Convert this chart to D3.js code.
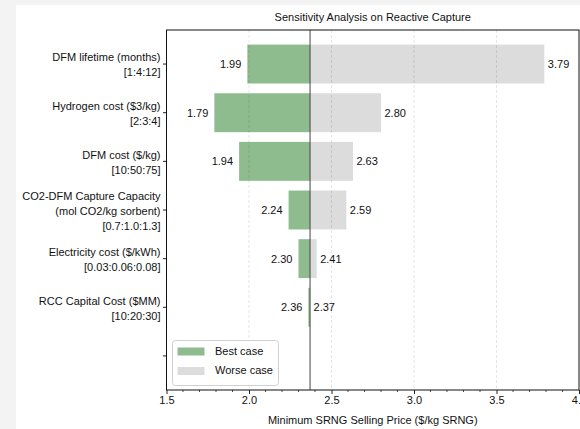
<!DOCTYPE html>
<html>
<head>
<meta charset="utf-8">
<script src="https://cdn.jsdelivr.net/npm/d3@7"></script>
<style>
  html, body { margin: 0; padding: 0; background: #f3f3f3; }
  svg { display: block; font-family: "Liberation Sans", Arial, sans-serif; }
</style>
</head>
<body>
<svg id="chart" width="580" height="429"></svg>
<script>
// ---- data ----
const categoryLabels = [
  ["DFM lifetime (months)", "[1:4:12]"],
  ["Hydrogen cost ($3/kg)", "[2:3:4]"],
  ["DFM cost ($/kg)", "[10:50:75]"],
  ["CO2-DFM Capture Capacity", "(mol CO2/kg sorbent)", "[0.7:1.0:1.3]"],
  ["Electricity cost ($/kWh)", "[0.03:0.06:0.08]"],
  ["RCC Capital Cost ($MM)", "[10:20:30]"],
  [""]
];
const baseValue = 2.37;
const bestCase = [1.99, 1.79, 1.94, 2.24, 2.30, 2.36];
const worseCase = [3.79, 2.80, 2.63, 2.59, 2.41, 2.37];
const bestLabels = ["1.99", "1.79", "1.94", "2.24", "2.30", "2.36"];
const worseLabels = ["3.79", "2.80", "2.63", "2.59", "2.41", "2.37"];
const xTicks = [1.5, 2.0, 2.5, 3.0, 3.5, 4.0];
const xTickLabels = ["1.5", "2.0", "2.5", "3.0", "3.5", "4.0"];
const legendLabels = ["Best case", "Worse case"];
const titleText = "Sensitivity Analysis on Reactive Capture";
const xTitle = "Minimum SRNG Selling Price ($/kg SRNG)";

// ---- layout ----
const W = 580, H = 429;
const plot = { left: 166.5, right: 579, top: 30, bottom: 390 };
const green = "#8fbc8f", grey = "#dcdcdc";

const svg = d3.select("#chart");
svg.append("rect").attr("x", 0).attr("y", 0).attr("width", W).attr("height", H).attr("fill", "#f3f3f3");
svg.append("rect").attr("x", 16).attr("y", 5).attr("width", W - 16).attr("height", H - 5).attr("fill", "#ffffff");

const x = d3.scaleLinear().domain([1.5, 4.0]).range([plot.left, plot.right]);
const y = d3.scaleLinear().domain([-0.7, 6.7]).range([plot.top, plot.bottom]);
const barH = (y(1) - y(0)) * 0.8;

const idx = d3.range(bestCase.length);

// bars
const g = svg.append("g");
g.selectAll("rect.best").data(idx).join("rect")
  .attr("class", "best")
  .attr("x", i => x(bestCase[i]))
  .attr("width", i => x(baseValue) - x(bestCase[i]))
  .attr("y", i => y(i) - barH / 2)
  .attr("height", barH)
  .attr("fill", green);
g.selectAll("rect.worse").data(idx).join("rect")
  .attr("class", "worse")
  .attr("x", x(baseValue))
  .attr("width", i => Math.max(0, x(worseCase[i]) - x(baseValue)))
  .attr("y", i => y(i) - barH / 2)
  .attr("height", barH)
  .attr("fill", grey);

// grid (dashed) over bars
svg.append("g").selectAll("line").data(xTicks.slice(1, -1)).join("line")
  .attr("x1", d => x(d)).attr("x2", d => x(d))
  .attr("y1", plot.top).attr("y2", plot.bottom)
  .attr("stroke", "#000").attr("stroke-opacity", 0.13)
  .attr("stroke-width", 0.8).attr("stroke-dasharray", "3,2");

// baseline
svg.append("line")
  .attr("x1", x(baseValue)).attr("x2", x(baseValue))
  .attr("y1", plot.top).attr("y2", plot.bottom)
  .attr("stroke", "#444").attr("stroke-width", 1);

// value labels
const fs = 11;
g.selectAll("text.bl").data(idx).join("text")
  .attr("x", i => x(bestCase[i]) - 6)
  .attr("y", i => y(i) + 1)
  .attr("text-anchor", "end").attr("dominant-baseline", "middle")
  .attr("font-size", fs).attr("fill", "#111")
  .text(i => bestLabels[i]);
g.selectAll("text.wl").data(idx).join("text")
  .attr("x", i => x(worseCase[i]) + 3.5)
  .attr("y", i => y(i) + 1)
  .attr("text-anchor", "start").attr("dominant-baseline", "middle")
  .attr("font-size", fs).attr("fill", "#111")
  .text(i => worseLabels[i]);

// x axis
const xAxis = d3.axisBottom(x).tickValues(xTicks).tickFormat((d, i) => xTickLabels[i]).tickSize(4).tickPadding(2);
const xa = svg.append("g").attr("transform", `translate(0,${plot.bottom})`).call(xAxis);
xa.select(".domain").remove();
xa.selectAll("text").attr("font-size", 11).attr("fill", "#111").attr("font-family", "Liberation Sans, Arial, sans-serif");
xa.selectAll("line").attr("stroke", "#222");
// minor ticks
const minor = d3.range(16, 40).map(v => v / 10).filter(v => Math.abs(v * 2 - Math.round(v * 2)) > 1e-6);
svg.append("g").selectAll("line").data(minor).join("line")
  .attr("x1", d => x(d)).attr("x2", d => x(d))
  .attr("y1", plot.bottom).attr("y2", plot.bottom + 2)
  .attr("stroke", "#222").attr("stroke-width", 0.8);

// y axis ticks and labels
const ya = svg.append("g");
ya.selectAll("line").data(d3.range(categoryLabels.length)).join("line")
  .attr("x1", plot.left - 3.5).attr("x2", plot.left)
  .attr("y1", i => y(i)).attr("y2", i => y(i))
  .attr("stroke", "#222");
const lineH = 15;
categoryLabels.forEach((lines, i) => {
  const n = lines.length;
  const center = y(i) + 2;
  const t = ya.append("text")
    .attr("text-anchor", "end")
    .attr("font-size", 11).attr("fill", "#111");
  lines.forEach((ln, k) => {
    t.append("tspan")
      .attr("x", plot.left - 6)
      .attr("y", center + (k - (n - 1) / 2) * lineH)
      .attr("dominant-baseline", "middle")
      .text(ln);
  });
});

// frame
svg.append("rect")
  .attr("x", plot.left).attr("y", plot.top)
  .attr("width", plot.right - plot.left).attr("height", plot.bottom - plot.top)
  .attr("fill", "none").attr("stroke", "#111").attr("stroke-width", 1);

// title
svg.append("text").attr("x", (plot.left + plot.right) / 2).attr("y", 18)
  .attr("text-anchor", "middle").attr("dominant-baseline", "middle")
  .attr("font-size", 11).attr("fill", "#111").text(titleText);

// x title
svg.append("text").attr("x", (plot.left + plot.right) / 2).attr("y", 421)
  .attr("text-anchor", "middle").attr("dominant-baseline", "middle")
  .attr("font-size", 11).attr("fill", "#111").text(xTitle);

// legend
const lg = svg.append("g");
lg.append("rect").attr("x", 172.5).attr("y", 340.5).attr("width", 106).attr("height", 45)
  .attr("rx", 3).attr("fill", "#fff").attr("fill-opacity", 0.8)
  .attr("stroke", "#d0d0d0").attr("stroke-width", 1);
[green, grey].forEach((c, k) => {
  lg.append("rect").attr("x", 177.5).attr("y", 347.5 + k * 19.5).attr("width", 27).attr("height", 8).attr("fill", c);
  lg.append("text").attr("x", 215).attr("y", 352 + k * 19.5)
    .attr("dominant-baseline", "middle").attr("font-size", 11).attr("fill", "#111")
    .text(legendLabels[k]);
});
</script>
</body>
</html>
